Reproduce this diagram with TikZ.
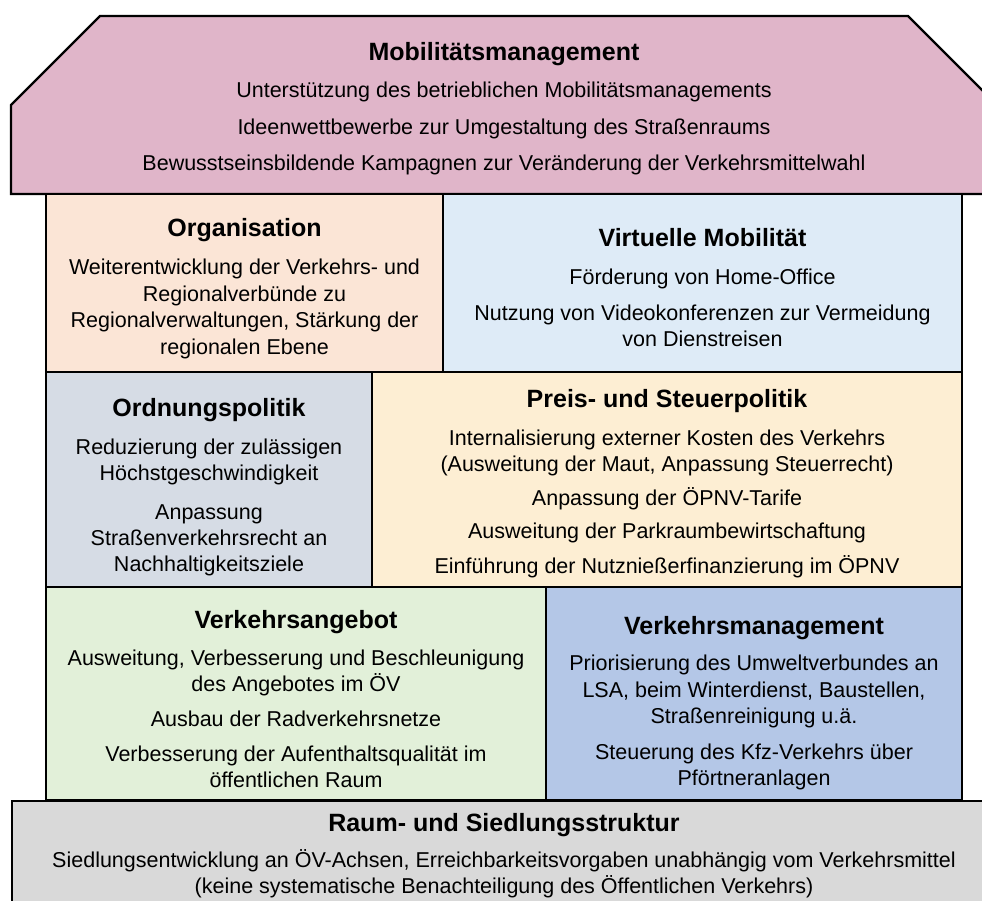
\documentclass[tikz,border=0pt]{standalone}
\usepackage{fontspec}
\setmainfont{Liberation Sans}
\definecolor{roofc}{HTML}{E0B5C9}
\definecolor{orgc}{HTML}{FBE5D6}
\definecolor{virc}{HTML}{DEEBF7}
\definecolor{ordc}{HTML}{D6DCE5}
\definecolor{prec}{HTML}{FDEED3}
\definecolor{angc}{HTML}{E2F0D9}
\definecolor{mgmc}{HTML}{B4C7E7}
\definecolor{basec}{HTML}{D9D9D9}
\newcommand{\btitle}[1]{{\rule{0pt}{22pt}\bfseries\fontsize{25}{26}\selectfont #1}}
\begin{document}
\begin{tikzpicture}[x=1pt,y=-1pt,
  box/.style={draw=black, line width=2.3pt, line join=miter},
  txt/.style={anchor=north, inner sep=0pt, align=center, font=\fontsize{21.5}{26}\selectfont}]
\clip (0,0) rectangle (982,901);
\fill[white] (0,0) rectangle (982,901);
% roof
\draw[box, fill=roofc] (11,194) -- (11,105) -- (100,16) -- (908,16) -- (997,105) -- (997,194) -- cycle;
% body
\draw[box, fill=orgc] (46,194) rectangle (443,372);
\draw[box, fill=virc] (443,194) rectangle (962,372);
\draw[box, fill=ordc] (46,372) rectangle (372,587);
\draw[box, fill=prec] (372,372) rectangle (962,587);
\draw[box, fill=angc] (46,587) rectangle (546,800);
\draw[box, fill=mgmc] (546,587) rectangle (962,800);
% base
\draw[box, fill=basec] (12,801) rectangle (996,915);

\node[txt] (roof) at (504,38) {\btitle{Mobilitätsmanagement}\\[11pt]
Unterstützung des betrieblichen Mobilitätsmanagements\\[11pt]
Ideenwettbewerbe zur Umgestaltung des Straßenraums\\[10pt]
Bewusstseinsbildende Kampagnen zur Veränderung der Verkehrsmittelwahl};

\node[txt] (org) at (244.5,214) {\btitle{Organisation}\\[12pt]
Weiterentwicklung der Verkehrs- und\\[0.8pt]
Regionalverbünde zu\\[0.8pt]
Regionalverwaltungen, Stärkung der\\[0.8pt]
regionalen Ebene};

\node[txt] (vir) at (702.5,224) {\btitle{Virtuelle Mobilität}\\[12pt]
Förderung von Home-Office\\[10pt]
Nutzung von Videokonferenzen zur Vermeidung\\
von Dienstreisen};

\node[txt] (ord) at (209,394) {\btitle{Ordnungspolitik}\\[12pt]
Reduzierung der zulässigen\\
Höchstgeschwindigkeit\\[13pt]
Anpassung\\
Straßenverkehrsrecht an\\
Nachhaltigkeitsziele};

\node[txt] (pre) at (667,385) {\btitle{Preis- und Steuerpolitik}\\[12pt]
Internalisierung externer Kosten des Verkehrs\\
(Ausweitung der Maut, Anpassung Steuerrecht)\\[8pt]
Anpassung der ÖPNV-Tarife\\[7.5pt]
Ausweitung der Parkraumbewirtschaftung\\[8.5pt]
Einführung der Nutznießerfinanzierung im ÖPNV};

\node[txt] (ang) at (296,606) {\btitle{Verkehrsangebot}\\[11.5pt]
Ausweitung, Verbesserung und Beschleunigung\\
des Angebotes im ÖV\\[9pt]
Ausbau der Radverkehrsnetze\\[9pt]
Verbesserung der Aufenthaltsqualität im\\
öffentlichen Raum};

\node[txt] (mgm) at (754,612) {\btitle{Verkehrsmanagement}\\[10.5pt]
Priorisierung des Umweltverbundes an\\[0.6pt]
LSA, beim Winterdienst, Baustellen,\\[0.6pt]
Straßenreinigung u.ä.\\[9.5pt]
Steuerung des Kfz-Verkehrs über\\
Pförtneranlagen};

\node[txt] (base) at (504,809) {\btitle{Raum- und Siedlungsstruktur}\\[10pt]
Siedlungsentwicklung an ÖV-Achsen, Erreichbarkeitsvorgaben unabhängig vom Verkehrsmittel\\
(keine systematische Benachteiligung des Öffentlichen Verkehrs)};
\end{tikzpicture}
\end{document}
